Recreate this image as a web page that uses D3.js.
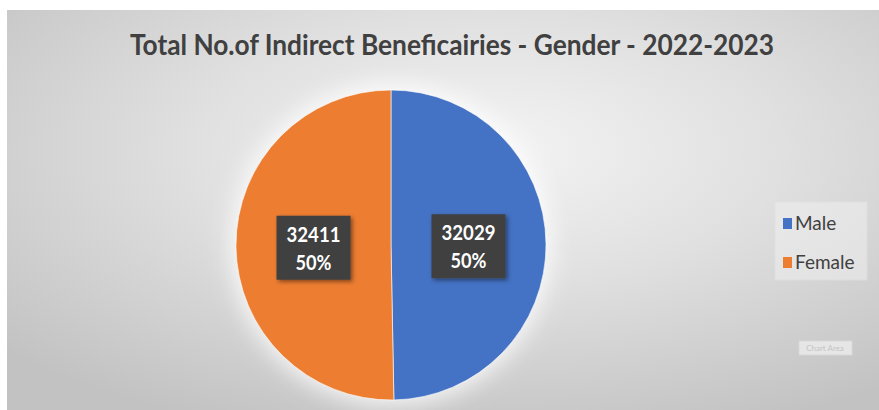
<!DOCTYPE html>
<html>
<head>
<meta charset="utf-8">
<script src="https://cdn.jsdelivr.net/npm/d3@7"></script>
<style>
  body { margin: 0; background: #fff; }
  svg { display: block; }
</style>
</head>
<body>
<svg id="chart" width="879" height="410"></svg>
<script>
// data
const categories = ['Male', 'Female'];
const values = [32029, 32411];
const colors = ['#4472c4', '#ed7d31'];
const title = 'Total No.of Indirect Beneficairies - Gender - 2022-2023';

const W = 879, H = 410;
const cx = 391, cy = 245, r = 155;

const svg = d3.select('#chart');
const defs = svg.append('defs');

// chart area background, a soft radial fill
const grad = defs.append('radialGradient')
  .attr('id', 'bg')
  .attr('cx', '55%').attr('cy', '35%').attr('r', '75%');
grad.append('stop').attr('offset', '0%').attr('stop-color', '#f4f4f4');
grad.append('stop').attr('offset', '45%').attr('stop-color', '#e0e0e0');
grad.append('stop').attr('offset', '100%').attr('stop-color', '#c2c2c2');

const glow = defs.append('filter').attr('id', 'glow')
  .attr('x', '-30%').attr('y', '-30%').attr('width', '160%').attr('height', '160%');
glow.append('feGaussianBlur').attr('stdDeviation', 12);

const shadow = defs.append('filter').attr('id', 'shadow')
  .attr('x', '-20%').attr('y', '-20%').attr('width', '150%').attr('height', '150%');
shadow.append('feDropShadow').attr('dx', 2).attr('dy', 2).attr('stdDeviation', 2)
  .attr('flood-color', '#000').attr('flood-opacity', 0.45);

svg.append('rect')
  .attr('x', 7).attr('y', 10).attr('width', W - 7).attr('height', H - 10)
  .attr('fill', 'url(#bg)');

// title
svg.append('text')
  .attr('x', 452).attr('y', 55)
  .attr('text-anchor', 'middle')
  .attr('font-family', 'Lato, "Open Sans", sans-serif')
  .attr('font-weight', 700)
  .attr('font-size', 29)
  .attr('fill', '#404040')
  .attr('textLength', 644)
  .attr('lengthAdjust', 'spacingAndGlyphs')
  .text(title);

// pie
const total = d3.sum(values);
const pie = d3.pie().sort(null)(values);
const arc = d3.arc().innerRadius(0).outerRadius(r);
const labelArc = d3.arc().innerRadius(r * 0.5).outerRadius(r * 0.5);

const g = svg.append('g').attr('transform', `translate(${cx},${cy})`);

g.append('circle').attr('r', r + 4).attr('fill', '#ffffff')
  .attr('opacity', 0.9).attr('filter', 'url(#glow)');

g.selectAll('path.slice')
  .data(pie)
  .join('path')
  .attr('class', 'slice')
  .attr('d', arc)
  .attr('fill', (d, i) => colors[i])
  .attr('stroke', '#fff')
  .attr('stroke-width', 0.6);

// data labels in dark boxes
const fmtPct = d3.format('.0%');
const labels = g.selectAll('g.lbl')
  .data(pie)
  .join('g')
  .attr('class', 'lbl')
  .attr('transform', d => {
    const [x, y] = labelArc.centroid(d);
    return `translate(${x},${y + 3})`;
  });

labels.append('rect')
  .attr('x', -37).attr('y', -33).attr('width', 74).attr('height', 64)
  .attr('fill', '#404040')
  .attr('filter', 'url(#shadow)');

labels.append('text')
  .attr('text-anchor', 'middle')
  .attr('y', -7)
  .attr('font-family', 'Lato, "Open Sans", sans-serif')
  .attr('font-weight', 700)
  .attr('font-size', 20)
  .attr('fill', '#fff')
  .attr('textLength', 54)
  .attr('lengthAdjust', 'spacingAndGlyphs')
  .text(d => d.data);

labels.append('text')
  .attr('text-anchor', 'middle')
  .attr('y', 21)
  .attr('font-family', 'Lato, "Open Sans", sans-serif')
  .attr('font-weight', 700)
  .attr('font-size', 20)
  .attr('fill', '#fff')
  .attr('textLength', 36)
  .attr('lengthAdjust', 'spacingAndGlyphs')
  .text(d => fmtPct(d.data / total));

// legend
const legend = svg.append('g').attr('transform', 'translate(775,202)');
legend.append('rect')
  .attr('width', 92).attr('height', 78)
  .attr('fill', '#f0f0f0').attr('opacity', 0.55)
  .attr('stroke', '#e4e4e4');

const items = legend.selectAll('g.item')
  .data(categories)
  .join('g')
  .attr('class', 'item')
  .attr('transform', (d, i) => `translate(8,${28 + i * 39})`);

items.append('rect')
  .attr('x', 0).attr('y', -12).attr('width', 9).attr('height', 11)
  .attr('fill', (d, i) => colors[i]);

items.append('text')
  .attr('x', 12).attr('y', 0)
  .attr('font-family', 'Lato, "Open Sans", sans-serif')
  .attr('font-size', 19)
  .attr('fill', '#404040')
  .text(d => d);

// faint "Chart Area" hover tip seen in the capture
const tip = svg.append('g').attr('transform', 'translate(799,341)');
tip.append('rect').attr('width', 53).attr('height', 14)
  .attr('fill', '#e6e6e6').attr('stroke', '#d8d8d8');
tip.append('text')
  .attr('x', 26).attr('y', 10).attr('text-anchor', 'middle')
  .attr('font-family', 'Lato, sans-serif').attr('font-size', 8)
  .attr('fill', '#c4c4c4')
  .text('Chart Area');
</script>
</body>
</html>
